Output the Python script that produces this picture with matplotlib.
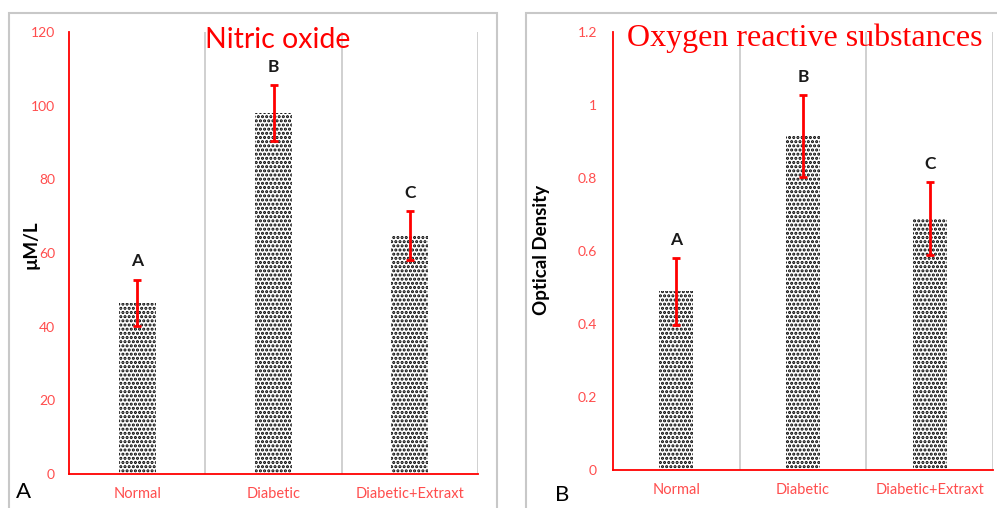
import matplotlib
matplotlib.use("Agg")
import matplotlib.pyplot as plt
from matplotlib.patches import Rectangle

categories = ["Normal", "Diabetic", "Diabetic+Extraxt"]
no_values = [46.5, 98.0, 64.8]
no_errors = [6.3, 7.7, 6.6]
no_letters = ["A", "B", "C"]
no_yticks = [0, 20, 40, 60, 80, 100, 120]

ors_values = [0.49, 0.915, 0.688]
ors_errors = [0.092, 0.113, 0.10]
ors_letters = ["A", "B", "C"]
ors_yticks = [0, 0.2, 0.4, 0.6, 0.8, 1, 1.2]
ors_yticklabels = ["0", "0.2", "0.4", "0.6", "0.8", "1", "1.2"]

W, H = 997, 508
plt.rcParams['hatch.linewidth'] = 1.5
fig = plt.figure(figsize=(W / 100, H / 100), dpi=100)
fig.patch.set_facecolor("white")

SANS = ["Lato", "DejaVu Sans"]
SERIF = ["Liberation Serif", "DejaVu Serif"]
TICKRED = "#ff4d4d"

def px_axes(x0, y0, x1, y1):
    return fig.add_axes([x0 / W, 1 - y1 / H, (x1 - x0) / W, (y1 - y0) / H])

# outer panel boxes
for (bx0, by0, bx1, by1) in [(9, 13, 497, 515), (526, 13, 1005, 515)]:
    fig.patches.append(Rectangle((bx0 / W, 1 - by1 / H), (bx1 - bx0) / W, (by1 - by0) / H,
                                 transform=fig.transFigure, fill=False,
                                 edgecolor="#c8c8c8", linewidth=1.5, zorder=0))

def draw_panel(ax, values, errors, letters, yticks, yticklabels, ymax, ylabel, ypad):
    x = list(range(len(categories)))
    ax.bar(x, values, width=0.27, color="white", edgecolor="black", linewidth=0,
           hatch="....", zorder=2)
    ax.errorbar(x, values, yerr=errors, fmt="none", ecolor="red", elinewidth=2,
                capsize=3, capthick=2, zorder=3)
    for xi, v, e, l in zip(x, values, errors, letters):
        ax.annotate(l, (xi, v + e), xytext=(0, 13), textcoords="offset points",
                    ha="center", va="center", fontsize=12.5, fontweight="bold",
                    family=SANS, color="#1a1a1a")
    ax.set_xlim(-0.5, len(categories) - 0.5)
    ax.set_ylim(0, ymax)
    for b in [0.5, 1.5, 2.5]:
        ax.axvline(b, color="#c8c8c8", linewidth=1.2, zorder=1)
    for s in ["top", "right"]:
        ax.spines[s].set_visible(False)
    ax.spines["left"].set_color("red")
    ax.spines["bottom"].set_color("red")
    ax.spines["left"].set_linewidth(1.3)
    ax.spines["bottom"].set_linewidth(1.3)
    ax.set_yticks(yticks)
    ax.set_yticklabels(yticklabels, family=SANS, fontsize=10, color=TICKRED)
    ax.set_xticks(x)
    ax.set_xticklabels(categories, family=SANS, fontsize=10.5, color=TICKRED)
    ax.tick_params(axis="both", length=0)
    ax.tick_params(axis="y", pad=ypad)
    ax.tick_params(axis="x", pad=9)
    ax.set_ylabel(ylabel, family=SANS, fontsize=13.5, fontweight="bold", color="black")

ax1 = px_axes(69, 32, 478, 474)
draw_panel(ax1, no_values, no_errors, no_letters, no_yticks,
           [str(t) for t in no_yticks], 120, "µM/L", 10)
ax1.yaxis.set_label_coords((39 - 69) / 409, (474 - 245) / 442)

ax2 = px_axes(613, 32, 993, 470)
draw_panel(ax2, ors_values, ors_errors, ors_letters, ors_yticks,
           ors_yticklabels, 1.2, "Optical Density", 11.5)
ax2.yaxis.set_label_coords((550 - 613) / 380, (470 - 250) / 438)

fig.text(278 / W, 1 - 40 / H, "Nitric oxide", color="red", fontsize=20.5,
         family=SANS, ha="center", va="center")
fig.text(805 / W, 1 - 38 / H, "Oxygen reactive substances", color="red", fontsize=23,
         family=SERIF, ha="center", va="center")
fig.text(23 / W, 1 - 492 / H, "A", color="black", fontsize=16, family=SANS,
         ha="center", va="center")
fig.text(562 / W, 1 - 495 / H, "B", color="black", fontsize=16, family=SANS,
         ha="center", va="center")

fig.savefig("out.png", dpi=100, facecolor="white")
